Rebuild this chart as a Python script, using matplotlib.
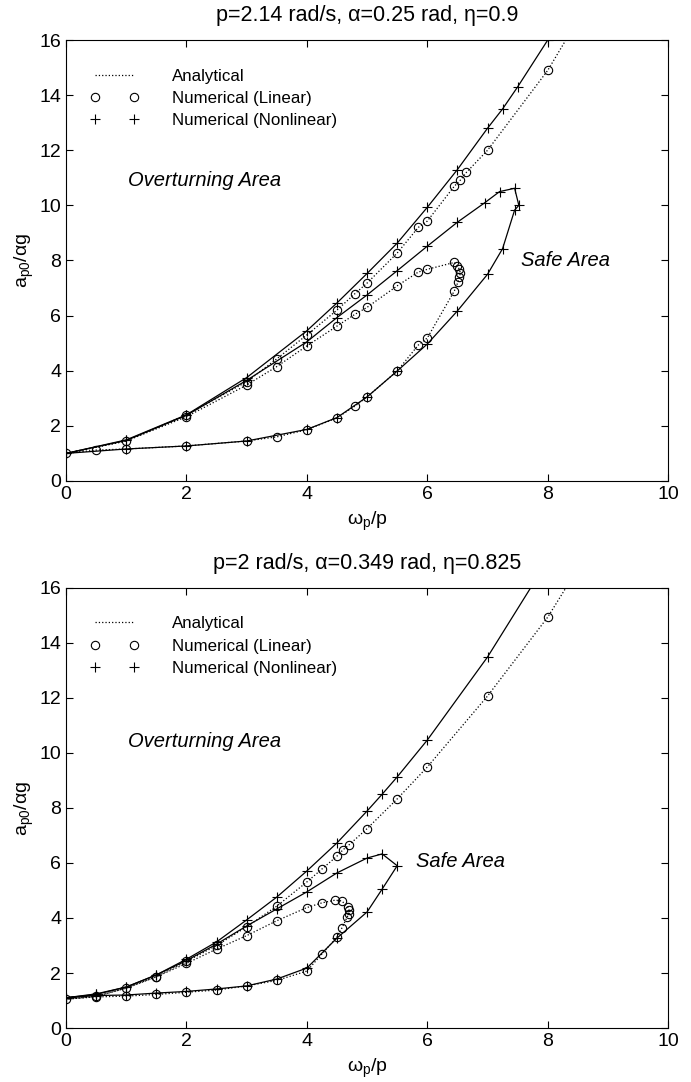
import matplotlib
matplotlib.use('Agg')
import matplotlib.pyplot as plt

plt.rcParams['font.family'] = ['Liberation Sans', 'DejaVu Sans']
plt.rcParams['mathtext.default'] = 'regular'

# ---- panel 1 : p=2.14 rad/s, alpha=0.25 rad, eta=0.9 ----
# analytical (dotted), upper branch
a1_up_x = [0, 1, 2, 3, 3.5, 4, 4.5, 4.8, 5, 5.5, 5.85, 6, 6.45, 6.55, 6.65, 7, 8, 8.3]
a1_up_y = [1, 1.45, 2.4, 3.6, 4.43, 5.3, 6.2, 6.8, 7.18, 8.27, 9.2, 9.43, 10.7, 10.92, 11.2, 12.0, 14.9, 16]
# analytical lower branch + fold + middle branch
a1_lo_x = [0, 0.5, 1, 2, 3, 3.5, 4, 4.5, 4.8, 5, 5.5, 5.85, 6, 6.45, 6.51, 6.53, 6.55,
           6.53, 6.5, 6.45, 6, 5.85, 5.5, 5, 4.8, 4.5, 4, 3.5, 3, 2, 1, 0]
a1_lo_y = [1, 1.12, 1.16, 1.27, 1.45, 1.6, 1.86, 2.29, 2.72, 3.05, 3.99, 4.93, 5.19, 6.9, 7.22, 7.4, 7.54,
           7.69, 7.8, 7.93, 7.68, 7.58, 7.08, 6.3, 6.05, 5.62, 4.9, 4.15, 3.48, 2.33, 1.45, 1]
# numerical (linear) circles
c1_x = [0, 1, 2, 3, 3.5, 4, 4.5, 4.8, 5, 5.5, 5.85, 6, 6.45, 6.55, 6.65, 7, 8,
        0.5, 1, 2, 3, 3.5, 4, 4.5, 4.8, 5, 5.5, 5.85, 6, 6.45, 6.51, 6.53, 6.55, 6.53, 6.5, 6.45,
        6, 5.85, 5.5, 5, 4.8, 4.5, 4, 3.5, 3, 2]
c1_y = [1, 1.45, 2.4, 3.6, 4.43, 5.3, 6.2, 6.8, 7.18, 8.27, 9.2, 9.43, 10.7, 10.92, 11.2, 12.0, 14.9,
        1.12, 1.16, 1.27, 1.45, 1.6, 1.86, 2.29, 2.72, 3.05, 3.99, 4.93, 5.19, 6.9, 7.22, 7.4, 7.54, 7.69, 7.8, 7.93,
        7.68, 7.58, 7.08, 6.3, 6.05, 5.62, 4.9, 4.15, 3.48, 2.33]
# numerical (nonlinear), upper branch
n1_up_x = [0, 1, 2, 3, 4, 4.5, 5, 5.5, 6, 6.5, 7, 7.25, 7.5, 8]
n1_up_y = [1, 1.49, 2.4, 3.75, 5.45, 6.46, 7.53, 8.63, 9.93, 11.3, 12.8, 13.5, 14.3, 16]
# nonlinear lower branch + fold + middle branch
n1_lo_x = [0, 1, 2, 3, 4, 4.5, 5, 5.5, 6, 6.5, 7, 7.25, 7.45, 7.52, 7.45,
           7.2, 6.95, 6.5, 6, 5.5, 5, 4.5, 4, 3, 2, 1, 0]
n1_lo_y = [1, 1.16, 1.27, 1.45, 1.87, 2.3, 3.05, 3.99, 4.97, 6.17, 7.5, 8.43, 9.83, 10.0, 10.62,
           10.5, 10.09, 9.39, 8.52, 7.63, 6.75, 5.93, 5.05, 3.65, 2.38, 1.47, 1]

# ---- panel 2 : p=2 rad/s, alpha=0.349 rad, eta=0.825 ----
a2_up_x = [0, 0.5, 1, 1.5, 2, 2.5, 3, 3.5, 4, 4.25, 4.5, 4.6, 4.7, 5, 5.5, 6, 7, 8, 8.3]
a2_up_y = [1.05, 1.15, 1.45, 1.87, 2.42, 3.0, 3.68, 4.43, 5.31, 5.78, 6.25, 6.48, 6.66, 7.25, 8.33, 9.49, 12.07, 14.94, 16]
a2_lo_x = [0, 0.5, 1, 1.5, 2, 2.5, 3, 3.5, 4, 4.25, 4.5, 4.58, 4.67, 4.7, 4.7, 4.68,
           4.58, 4.47, 4.25, 4, 3.5, 3, 2.5, 2, 1.5, 1, 0.5, 0]
a2_lo_y = [1.05, 1.13, 1.16, 1.22, 1.3, 1.38, 1.53, 1.73, 2.07, 2.69, 3.31, 3.63, 4.04, 4.15, 4.28, 4.4,
           4.62, 4.65, 4.55, 4.38, 3.9, 3.36, 2.87, 2.35, 1.86, 1.45, 1.15, 1.05]
c2_x = [0, 0.5, 1, 1.5, 2, 2.5, 3, 3.5, 4, 4.25, 4.5, 4.6, 4.7, 5, 5.5, 6, 7, 8,
        0.5, 1, 1.5, 2, 2.5, 3, 3.5, 4, 4.25, 4.5, 4.58, 4.67, 4.7, 4.7, 4.68, 4.58, 4.47,
        4.25, 4, 3.5, 3, 2.5, 2, 1.5]
c2_y = [1.05, 1.15, 1.45, 1.87, 2.42, 3.0, 3.68, 4.43, 5.31, 5.78, 6.25, 6.48, 6.66, 7.25, 8.33, 9.49, 12.07, 14.94,
        1.13, 1.16, 1.22, 1.3, 1.38, 1.53, 1.73, 2.07, 2.69, 3.31, 3.63, 4.04, 4.15, 4.28, 4.4, 4.62, 4.65,
        4.55, 4.38, 3.9, 3.36, 2.87, 2.35, 1.86]
n2_up_x = [0, 0.5, 1, 1.5, 2, 2.5, 3, 3.5, 4, 4.5, 5, 5.25, 5.5, 6, 7, 7.8]
n2_up_y = [1.1, 1.24, 1.49, 1.93, 2.5, 3.13, 3.93, 4.76, 5.71, 6.73, 7.89, 8.5, 9.13, 10.47, 13.49, 16.3]
n2_lo_x = [0, 0.5, 1, 1.5, 2, 2.5, 3, 3.5, 4, 4.5, 5, 5.25, 5.5,
           5.25, 5, 4.5, 4, 3.5, 3, 2.5, 2, 1.5, 1, 0.5, 0]
n2_lo_y = [1.1, 1.18, 1.2, 1.27, 1.33, 1.42, 1.53, 1.78, 2.18, 3.27, 4.22, 5.05, 5.9,
           6.33, 6.18, 5.64, 4.95, 4.33, 3.71, 3.05, 2.45, 1.93, 1.49, 1.22, 1.1]

titles = ['p=2.14 rad/s, \u03b1=0.25 rad, \u03b7=0.9',
          'p=2 rad/s, \u03b1=0.349 rad, \u03b7=0.825']
overturn_pos = [(1.03, 10.9), (1.03, 10.4)]
safe_pos = [(7.55, 8.0), (5.82, 6.04)]

panels = [
    (a1_up_x, a1_up_y, a1_lo_x, a1_lo_y, c1_x, c1_y, n1_up_x, n1_up_y, n1_lo_x, n1_lo_y),
    (a2_up_x, a2_up_y, a2_lo_x, a2_lo_y, c2_x, c2_y, n2_up_x, n2_up_y, n2_lo_x, n2_lo_y),
]

fig = plt.figure(figsize=(6.91, 10.82), dpi=100)
ax_rects = [[0.0955, 0.5555, 0.8715, 0.4075], [0.0955, 0.0499, 0.8715, 0.4067]]

for i, (ax_up_x, ax_up_y, ax_lo_x, ax_lo_y, cx, cy, nux, nuy, nlx, nly) in enumerate(panels):
    ax = fig.add_axes(ax_rects[i])
    ax.plot(ax_up_x, ax_up_y, color='k', linestyle=':', linewidth=0.9, label='Analytical')
    ax.plot(ax_lo_x, ax_lo_y, color='k', linestyle=':', linewidth=0.9)
    ax.plot(cx, cy, linestyle='none', marker='o', markersize=6, mfc='none', mec='k',
            mew=0.8, label='Numerical (Linear)')
    ax.plot(nux, nuy, color='k', linewidth=0.9)
    ax.plot(nlx, nly, color='k', linewidth=0.9)
    # last upper point of panel 2 is only where the line leaves the axes
    mk_up = nux[:-1] if i == 1 else nux
    mk_upy = nuy[:-1] if i == 1 else nuy
    ax.plot(mk_up + nlx, mk_upy + nly, linestyle='none', marker='+', markersize=7, color='k',
            mew=0.8, label='Numerical (Nonlinear)')

    ax.set_xlim(0, 10)
    ax.set_ylim(0, 16)
    ax.set_xticks(range(0, 11, 2))
    ax.set_yticks(range(0, 17, 2))
    ax.tick_params(direction='in', top=True, right=True, length=5, width=0.8, labelsize=14)
    for s in ax.spines.values():
        s.set_linewidth(0.8)
    ax.set_title(titles[i], fontsize=15.5, pad=14)
    ax.set_xlabel('\u03c9$_{p}$/p', fontsize=14, labelpad=5)
    ax.set_ylabel('a$_{p0}$/\u03b1g', fontsize=14, labelpad=2)
    ax.text(overturn_pos[i][0], overturn_pos[i][1], 'Overturning Area', fontsize=14.5,
            style='italic', va='center', ha='left')
    ax.text(safe_pos[i][0], safe_pos[i][1], 'Safe Area', fontsize=14.5,
            style='italic', va='center', ha='left')
    ax.legend(loc='upper left', frameon=False, fontsize=12.2, numpoints=2,
              handlelength=2.9, handletextpad=1.9, labelspacing=0.42,
              bbox_to_anchor=(0.015, 0.97))

fig.savefig('out.png', dpi=100)
